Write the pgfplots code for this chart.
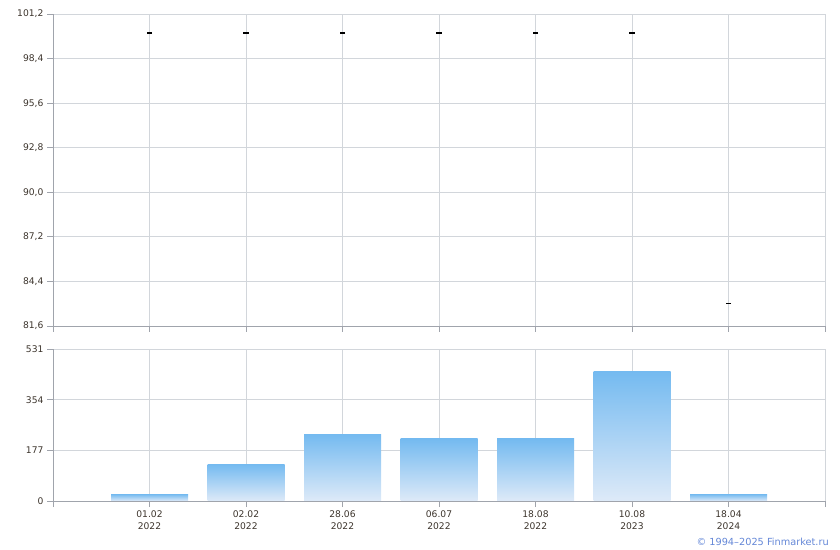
\documentclass[border=0pt]{standalone}
\usepackage{pgfplots}
\pgfplotsset{compat=1.18}
\usepackage{fontspec}
\setmainfont{DejaVu Sans}
\definecolor{axisgrey}{RGB}{160,164,172}
\definecolor{gridgrey}{RGB}{210,214,219}
\definecolor{labelc}{RGB}{60,52,44}
\definecolor{bartop}{RGB}{116,186,240}
\definecolor{barbot}{RGB}{222,234,248}
\definecolor{copyc}{RGB}{100,135,215}
\begin{document}
\begin{tikzpicture}
\useasboundingbox (0,0) rectangle (840bp,550bp);
\pgfplotsset{
  common/.style={
    scale only axis,
    width=772bp,
    xmin=-1, xmax=7,
    xtick={-1,0,1,2,3,4,5,6,7},
    axis x line*=bottom,
    axis y line*=left,
    axis line style={draw=axisgrey, line width=0.9bp, -},
    tick align=outside,
    major tick length=6bp,
    tick style={draw=axisgrey, line width=0.9bp},
    grid=major,
    major grid style={draw=gridgrey, line width=0.9bp},
    ticklabel style={font=\fontsize{9.2}{10}\selectfont, text=labelc},
    /pgf/number format/assume math mode=true,
    clip=false,
  },
  onebar/.style={ybar, bar width=77bp, bar shift=0pt, draw=none, shade, top color=bartop, bottom color=barbot},
}
\begin{axis}[common,
  at={(53bp,224bp)}, anchor=south west,
  height=312bp,
  ymin=81.6, ymax=101.2,
  ytick={81.6,84.4,87.2,90.0,92.8,95.6,98.4,101.2},
  yticklabel style={/pgf/number format/.cd, fixed, fixed zerofill, precision=1, use comma},
  xticklabels={},
]
\addplot[only marks, mark=-, mark size=2.6bp, mark options={line width=1.2bp, draw=black}]
  coordinates {(0,100) (1,100) (2,100) (3,100) (4,100) (5,100) (6,83)};
\end{axis}
\begin{axis}[common,
  at={(53bp,49bp)}, anchor=south west,
  height=152bp,
  ymin=0, ymax=531,
  ytick={0,177,354,531},
  xticklabels={,{01.02\\2022},{02.02\\2022},{28.06\\2022},{06.07\\2022},{18.08\\2022},{10.08\\2023},{18.04\\2024},},
  xticklabel style={align=center, font=\fontsize{9.2}{12}\selectfont},
]
\addplot[onebar] coordinates {(0,24)};
\addplot[onebar] coordinates {(1,129)};
\addplot[onebar] coordinates {(2,234)};
\addplot[onebar] coordinates {(3,217)};
\addplot[onebar] coordinates {(4,217)};
\addplot[onebar] coordinates {(5,454)};
\addplot[onebar] coordinates {(6,24)};
\end{axis}
\node[anchor=base east, text=copyc, font=\fontsize{9.8}{11}\selectfont, inner sep=0pt] at (829bp,5bp) {© 1994–2025 Finmarket.ru};
\end{tikzpicture}
\end{document}
